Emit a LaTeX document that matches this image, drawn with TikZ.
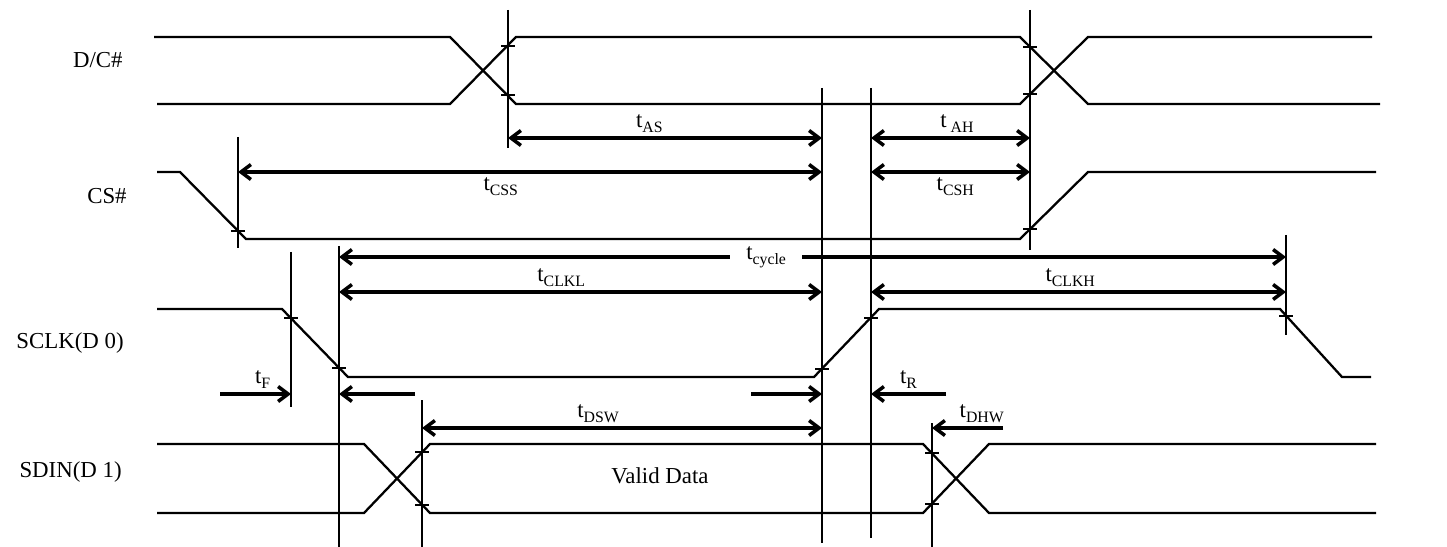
\documentclass[tikz,border=0pt]{standalone}
\usepackage{fontspec}
\setmainfont{Liberation Serif}
\usetikzlibrary{arrows.meta}
\tikzstyle{signal} = [line width=1.3pt, line join=miter]
\tikzstyle{guide} = [line width=0.6pt]
\tikzstyle{tickmark} = [line width=0.6pt]
\tikzstyle{arrow} = [line width=2pt, ->, >={Straight Barb[length=0.2cm, width=0.3cm]}]
\tikzstyle{signame} = [anchor=east, inner sep=0pt, font=\fontsize{13}{15}\selectfont]
\tikzstyle{tlabel} = [inner sep=2pt, font=\fontsize{13}{15}\selectfont]
\newcommand{\tsub}[1]{t\raisebox{-0.5ex}{\fontsize{9}{10}\selectfont #1}}

\begin{document}
\begin{tikzpicture}[x=0.02cm, y=-0.02cm]
    \useasboundingbox (0,0) rectangle (1447,547);

    % Nomi dei segnali
    \node (dc) [signame] at (123,60) {D/C\#};
    \node (cs) [signame] at (127,196) {CS\#};
    \node (sclk) [signame] at (124,343) {SCLK(D 0)};
    \node (sdin) [signame] at (122,472) {SDIN(D 1)};

    % Forme d'onda
    \draw [signal] (154,37) -- (450,37) -- (516,104) -- (1020,104) -- (1088,37) -- (1372,37);
    \draw [signal] (157,104) -- (450,104) -- (516,37) -- (1020,37) -- (1088,104) -- (1380,104);
    \draw [signal] (157,172) -- (180,172) -- (246,239) -- (1020,239) -- (1088,172) -- (1376,172);
    \draw [signal] (157,309) -- (282,309) -- (348,377) -- (814,377) -- (879,309) -- (1280,309) -- (1342,377) -- (1371,377);
    \draw [signal] (157,444) -- (364,444) -- (430,513) -- (923,513) -- (989,444) -- (1376,444);
    \draw [signal] (157,513) -- (364,513) -- (430,444) -- (923,444) -- (989,513) -- (1376,513);
    \node (valid) [tlabel] at (660,476) {Valid Data};

    % Linee di riferimento
    \draw [guide] (508,10) -- (508,148);
    \draw [guide] (238,137) -- (238,248);
    \draw [guide] (822,88) -- (822,543);
    \draw [guide] (871,88) -- (871,538);
    \draw [guide] (1030,10) -- (1030,250);
    \draw [guide] (291,252) -- (291,407);
    \draw [guide] (339,246) -- (339,547);
    \draw [guide] (1286,235) -- (1286,335);
    \draw [guide] (422,400) -- (422,547);
    \draw [guide] (932,423) -- (932,547);

    % Tacche sulle transizioni
    \foreach \x/\y in {508/46, 508/95, 1030/47, 1030/94, 238/231, 1030/229,
        291/318, 339/368, 822/369, 871/318, 1286/316,
        422/452, 422/505, 932/453, 932/504}
        \draw [tickmark] (\x-7,\y) -- (\x+7,\y);

    % Estremi delle quote
    \coordinate (asL) at (508,138);   \coordinate (asR) at (822,138);
    \coordinate (ahL) at (871,138);   \coordinate (ahR) at (1030,138);
    \coordinate (cssL) at (238,172);  \coordinate (cssR) at (822,172);
    \coordinate (cshL) at (871,172);  \coordinate (cshR) at (1030,172);
    \coordinate (cycL) at (339,257);  \coordinate (cycR) at (1286,257);
    \coordinate (clklL) at (339,292); \coordinate (clklR) at (822,292);
    \coordinate (clkhL) at (871,292); \coordinate (clkhR) at (1286,292);
    \coordinate (fS) at (220,394);    \coordinate (fE) at (291,394);
    \coordinate (fbS) at (415,394);   \coordinate (fbE) at (339,394);
    \coordinate (rbS) at (751,394);   \coordinate (rbE) at (822,394);
    \coordinate (rS) at (946,394);    \coordinate (rE) at (871,394);
    \coordinate (dswL) at (422,428);  \coordinate (dswR) at (822,428);
    \coordinate (dhwS) at (1003,428); \coordinate (dhwE) at (932,428);

    % Quote temporali
    \draw [arrow, <->] (asL) -- node [tlabel, above, pos=0.45] {\tsub{AS}} (asR);
    \draw [arrow, <->] (ahL) -- node [tlabel, above, pos=0.54] {\tsub{\ AH}} (ahR);
    \draw [arrow, <->] (cssL) -- node [tlabel, below, pos=0.45] {\tsub{CSS}} (cssR);
    \draw [arrow, <->] (cshL) -- node [tlabel, below, pos=0.53] {\tsub{CSH}} (cshR);
    \draw [arrow, <->] (cycL) -- node [tlabel, fill=white, inner xsep=9pt, inner ysep=1pt, pos=0.451] {\tsub{cycle}} (cycR);
    \draw [arrow, <->] (clklL) -- node [tlabel, above, pos=0.46] {\tsub{CLKL}} (clklR);
    \draw [arrow, <->] (clkhL) -- node [tlabel, above, pos=0.48] {\tsub{CLKH}} (clkhR);
    \draw [arrow] (fS) -- node [tlabel, above, pos=0.6] {\tsub{F}} (fE);
    \draw [arrow] (fbS) -- (fbE);
    \draw [arrow] (rbS) -- (rbE);
    \draw [arrow] (rS) -- node [tlabel, above, pos=0.5] {\tsub{R}} (rE);
    \draw [arrow, <->] (dswL) -- node [tlabel, above, pos=0.44] {\tsub{DSW}} (dswR);
    \draw [arrow] (dhwS) -- node [tlabel, above, pos=0.3] {\tsub{DHW}} (dhwE);

\end{tikzpicture}
\end{document}
